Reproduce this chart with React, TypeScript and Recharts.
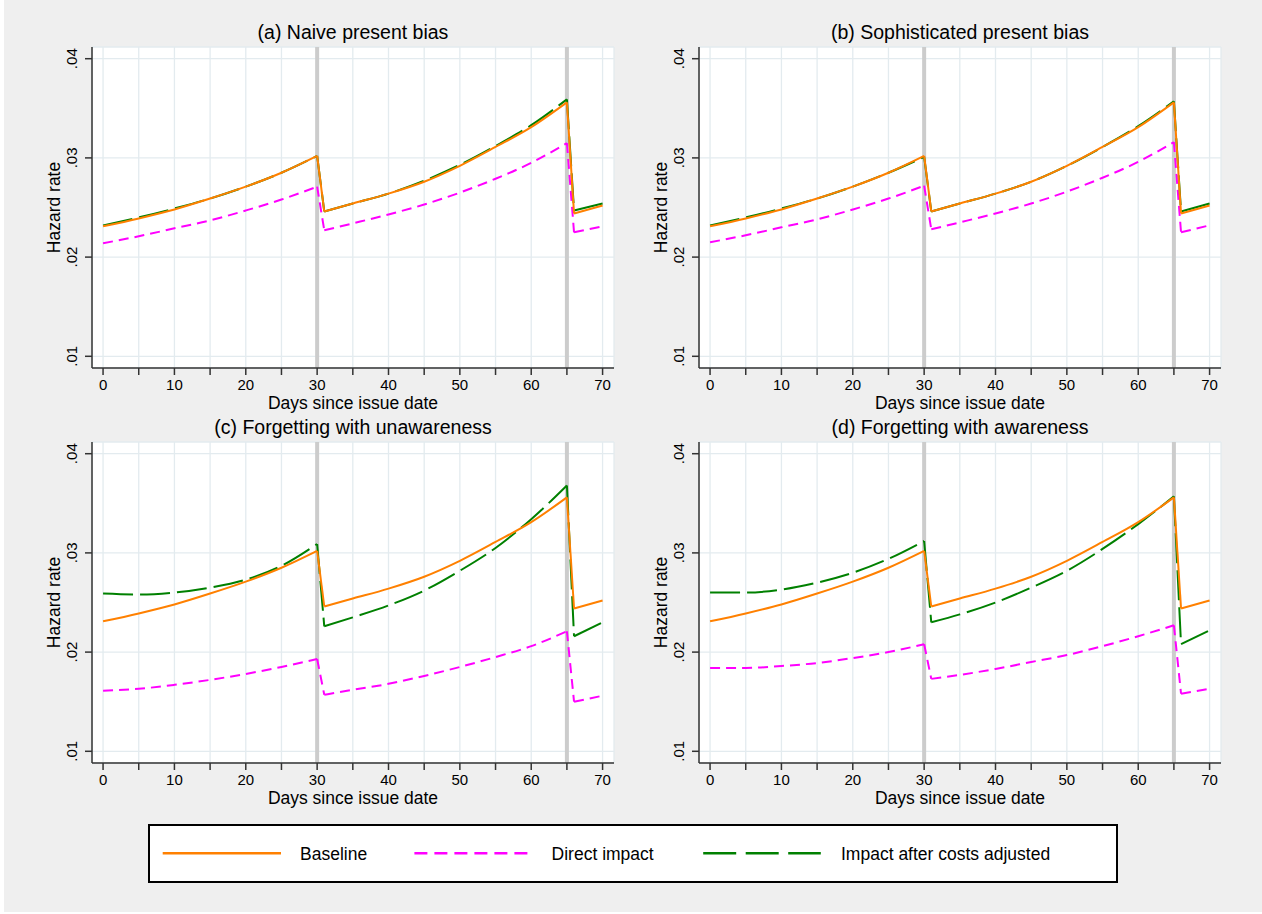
import React from 'react';
import { LineChart, Line, XAxis, YAxis, CartesianGrid, ReferenceLine } from 'recharts';

const days = [0, 5, 10, 15, 20, 25, 30, 31, 35, 40, 45, 50, 55, 60, 65, 66, 70];

const baseline = [0.0231, 0.0239, 0.0248, 0.0259, 0.0271, 0.0285, 0.0302, 0.0246, 0.0254, 0.0264, 0.0276, 0.0292, 0.0311, 0.0331, 0.0356, 0.0244, 0.0252];

const directA = [0.0214, 0.0221, 0.0229, 0.0237, 0.0247, 0.0258, 0.0271, 0.0227, 0.0234, 0.0243, 0.0253, 0.0265, 0.0279, 0.0295, 0.0315, 0.0225, 0.0231];
const adjustedA = [0.0232, 0.024, 0.0249, 0.0259, 0.0271, 0.0285, 0.0302, 0.0246, 0.0254, 0.0264, 0.0277, 0.0293, 0.0312, 0.0333, 0.0359, 0.0247, 0.0254];

const directB = [0.0215, 0.0222, 0.023, 0.0238, 0.0248, 0.0259, 0.0272, 0.0228, 0.0235, 0.0244, 0.0254, 0.0266, 0.028, 0.0296, 0.0316, 0.0225, 0.0232];
const adjustedB = [0.0232, 0.024, 0.0249, 0.0259, 0.0271, 0.0285, 0.0301, 0.0246, 0.0254, 0.0264, 0.0276, 0.0292, 0.0311, 0.0332, 0.0357, 0.0246, 0.0254];

const directC = [0.0161, 0.0163, 0.0167, 0.0172, 0.0178, 0.0185, 0.0193, 0.0157, 0.0162, 0.0168, 0.0176, 0.0185, 0.0195, 0.0206, 0.0221, 0.015, 0.0156];
const adjustedC = [0.0259, 0.0258, 0.026, 0.0265, 0.0273, 0.0287, 0.0309, 0.0226, 0.0235, 0.0247, 0.0262, 0.0282, 0.0305, 0.0334, 0.0368, 0.0216, 0.023];

const directD = [0.0184, 0.0184, 0.0186, 0.0189, 0.0194, 0.02, 0.0208, 0.0173, 0.0177, 0.0183, 0.019, 0.0197, 0.0206, 0.0216, 0.0227, 0.0158, 0.0163];
const adjustedD = [0.026, 0.026, 0.0263, 0.027, 0.028, 0.0294, 0.0312, 0.023, 0.0238, 0.025, 0.0265, 0.0282, 0.0304, 0.0329, 0.0357, 0.0208, 0.0222];

const panelTitles = [
  '(a) Naive present bias',
  '(b) Sophisticated present bias',
  '(c) Forgetting with unawareness',
  '(d) Forgetting with awareness',
];

const xTicks = [0, 5, 10, 15, 20, 25, 30, 35, 40, 45, 50, 55, 60, 65, 70];
const yTicks = [0.01, 0.02, 0.03, 0.04];
const deadlines = [30, 65];

const seriesNames = ['Baseline', 'Direct impact', 'Impact after costs adjusted'];

const FONT = '"Liberation Sans", Arial, Helvetica, sans-serif';
const ORANGE = '#ff8000';
const MAGENTA = '#ff00ff';
const GREEN = '#008000';

// smooth pieces between the deadlines, straight drops across them
const pieces = [[0, 6], [7, 14], [15, 16]];
const drops = [[6, 7], [14, 15]];

const toRows = (values: number[]) => days.map((d, i) => ({ day: d, v: values[i] }));

const XTick = (props: any) => {
  const { x, y, payload } = props;
  if (payload.value % 10 !== 0) return <g />;
  return (
    <text x={x} y={y} dy={10.5} textAnchor="middle" fontSize={15} fontFamily={FONT} fill="#000">
      {payload.value}
    </text>
  );
};

const YTick = (props: any) => {
  const { x, y, payload } = props;
  const label = Number(payload.value).toFixed(2).replace(/^0/, '');
  return (
    <text
      transform={`translate(${x - 6},${y}) rotate(-90)`}
      textAnchor="middle"
      fontSize={15}
      fontFamily={FONT}
      fill="#000"
    >
      {label}
    </text>
  );
};

const XTitle = (props: any) => {
  const vb = props.viewBox || { x: 92, y: 368, width: 522, height: 47 };
  return (
    <text x={vb.x + vb.width / 2} y={vb.y + vb.height - 6} textAnchor="middle" fontSize={17.5} fontFamily={FONT} fill="#000">
      Days since issue date
    </text>
  );
};

const YTitle = (props: any) => {
  const vb = props.viewBox || { x: 0, y: 47, width: 92, height: 321 };
  return (
    <text
      transform={`translate(${vb.x + 59.5},${vb.y + vb.height / 2}) rotate(-90)`}
      textAnchor="middle"
      fontSize={17.5}
      fontFamily={FONT}
      fill="#000"
    >
      Hazard rate
    </text>
  );
};

function seriesLines(id: string, values: number[], color: string, dash?: string) {
  const rows = toRows(values);
  const out: React.ReactNode[] = [];
  pieces.forEach(([a, b], k) => {
    out.push(
      <Line
        key={`${id}-p${k}`}
        data={rows.slice(a, b + 1)}
        dataKey="v"
        type="monotone"
        stroke={color}
        strokeWidth={2}
        strokeDasharray={dash}
        dot={false}
        activeDot={false}
        isAnimationActive={false}
      />
    );
  });
  drops.forEach(([a, b], k) => {
    out.push(
      <Line
        key={`${id}-d${k}`}
        data={rows.slice(a, b + 1)}
        dataKey="v"
        type="linear"
        stroke={color}
        strokeWidth={2}
        strokeDasharray={dash}
        dot={false}
        activeDot={false}
        isAnimationActive={false}
      />
    );
  });
  return out;
}

const Panel = ({ left, top, title, direct, adjusted, id }: any) => (
  <div style={{ position: 'absolute', left, top, width: 625, height: 415 }}>
    <div
      style={{
        position: 'absolute',
        left: 92,
        top: 22.5,
        width: 522,
        textAlign: 'center',
        fontFamily: FONT,
        fontSize: 19.5,
        lineHeight: '19.5px',
        color: '#000',
        whiteSpace: 'nowrap',
      }}
    >
      {title}
    </div>
    <LineChart width={625} height={415} margin={{ top: 47, right: 11, bottom: 0, left: 0 }}>
      <CartesianGrid fill="#ffffff" stroke="#e3ebef" strokeWidth={1.3} />
      <XAxis
        type="number"
        dataKey="day"
        domain={[-1.55, 71.6]}
        allowDataOverflow
        ticks={xTicks}
        interval={0}
        height={47}
        tickSize={7}
        tickMargin={4}
        stroke="#333"
        strokeWidth={1.5}
        tick={XTick}
        label={XTitle}
      />
      <YAxis
        type="number"
        domain={[0.00882, 0.04118]}
        allowDataOverflow
        ticks={yTicks}
        interval={0}
        width={92}
        tickSize={7}
        tickMargin={2}
        stroke="#333"
        strokeWidth={1.5}
        tick={YTick}
        label={YTitle}
      />
      {deadlines.map((d) => (
        <ReferenceLine key={d} x={d} stroke="#cccccc" strokeWidth={4} />
      ))}
      {seriesLines(`${id}-dir`, direct, MAGENTA, '10 6')}
      {seriesLines(`${id}-adj`, adjusted, GREEN, '30 7')}
      {seriesLines(`${id}-base`, baseline, ORANGE)}
    </LineChart>
  </div>
);

const LegendBox = () => (
  <div
    style={{
      position: 'absolute',
      left: 148,
      top: 824,
      width: 970,
      height: 59,
      border: '2px solid #000',
      boxSizing: 'border-box',
      background: '#fff',
    }}
  >
    <svg width={966} height={55} style={{ display: 'block' }}>
      <line x1={12.7} x2={131} y1={27.3} y2={27.3} stroke={ORANGE} strokeWidth={2.5} />
      <text x={150} y={34} fontSize={17.5} fontFamily={FONT} fill="#000">{seriesNames[0]}</text>
      <line x1={264.4} x2={382.7} y1={27.3} y2={27.3} stroke={MAGENTA} strokeWidth={2.5} strokeDasharray="13 7" />
      <text x={401.6} y={34} fontSize={17.5} fontFamily={FONT} fill="#000">{seriesNames[1]}</text>
      <line x1={553.2} x2={670.8} y1={27.3} y2={27.3} stroke={GREEN} strokeWidth={2.5} strokeDasharray="33 9.5" />
      <text x={691} y={34} fontSize={17.5} fontFamily={FONT} fill="#000">{seriesNames[2]}</text>
    </svg>
  </div>
);

export default function App() {
  return (
    <div style={{ position: 'absolute', left: 0, top: 0, width: 1262, height: 914, background: '#fff' }}>
      <div style={{ position: 'absolute', left: 4, top: 0, width: 1258, height: 912, background: '#efefef' }} />
      <Panel id="a" left={0} top={0} title={panelTitles[0]} direct={directA} adjusted={adjustedA} />
      <Panel id="b" left={607} top={0} title={panelTitles[1]} direct={directB} adjusted={adjustedB} />
      <Panel id="c" left={0} top={395} title={panelTitles[2]} direct={directC} adjusted={adjustedC} />
      <Panel id="d" left={607} top={395} title={panelTitles[3]} direct={directD} adjusted={adjustedD} />
      <LegendBox />
    </div>
  );
}
